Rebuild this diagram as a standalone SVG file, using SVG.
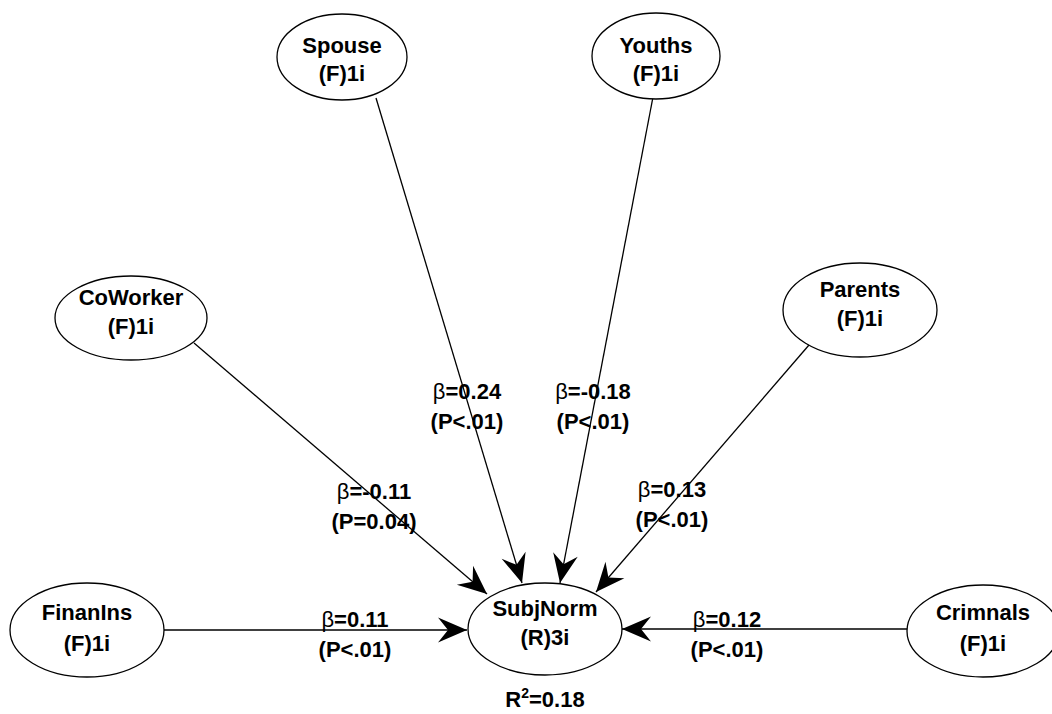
<svg xmlns="http://www.w3.org/2000/svg" width="1052" height="714" viewBox="0 0 1052 714">
  <style>
    .node { fill: #ffffff; stroke: #000000; stroke-width: 1.3; }
    .edge { fill: none; stroke: #000000; stroke-width: 1.3; marker-end: url(#arrow); }
    text { font-family: "Liberation Sans", Arial, sans-serif; font-size: 22px; font-weight: bold; fill: #000000; text-anchor: middle; }
    .beta { font-weight: normal; }
    .sup { font-size: 14px; }
  </style>
  <defs>
    <marker id="arrow" markerUnits="userSpaceOnUse" viewBox="-31 -14 32 28" refX="0" refY="0" markerWidth="32" markerHeight="28" orient="auto">
      <path d="M0,0 L-29,-12.5 L-19,0 L-29,12.5 Z" fill="#000000"/>
    </marker>
  </defs>
  <rect width="1052" height="714" fill="#ffffff"/>

  <!-- connectors: paths into SubjNorm -->
  <g id="connectors">
    <line class="edge" x1="376" y1="98" x2="522" y2="583"/>
    <line class="edge" x1="653" y1="97" x2="560" y2="583"/>
    <line class="edge" x1="194" y1="343" x2="487" y2="594"/>
    <line class="edge" x1="809" y1="345" x2="596" y2="592"/>
    <line class="edge" x1="164" y1="630" x2="467" y2="630"/>
    <line class="edge" x1="907" y1="629" x2="622" y2="629"/>
  </g>

  <!-- path coefficients -->
  <g id="edge-labels">
    <text x="467" y="399"><tspan class="beta">β</tspan>=0.24</text>
    <text x="467" y="429">(P&lt;.01)</text>
    <text x="593" y="399"><tspan class="beta">β</tspan>=-0.18</text>
    <text x="593" y="429">(P&lt;.01)</text>
    <text x="374" y="499"><tspan class="beta">β</tspan>=-0.11</text>
    <text x="374" y="529">(P=0.04)</text>
    <text x="672" y="497"><tspan class="beta">β</tspan>=0.13</text>
    <text x="672" y="527">(P&lt;.01)</text>
    <text x="355" y="627"><tspan class="beta">β</tspan>=0.11</text>
    <text x="355" y="657">(P&lt;.01)</text>
    <text x="727" y="627"><tspan class="beta">β</tspan>=0.12</text>
    <text x="727" y="657">(P&lt;.01)</text>
  </g>

  <g id="spouse">
    <ellipse class="node" cx="342" cy="57" rx="65" ry="43"/>
    <text x="342" y="53">Spouse</text>
    <text x="342" y="81">(F)1i</text>
  </g>
  <g id="youths">
    <ellipse class="node" cx="656" cy="56" rx="64" ry="43"/>
    <text x="656" y="53">Youths</text>
    <text x="656" y="81">(F)1i</text>
  </g>
  <g id="coworker">
    <ellipse class="node" cx="131" cy="318" rx="76" ry="42"/>
    <text x="131" y="305">CoWorker</text>
    <text x="131" y="334">(F)1i</text>
  </g>
  <g id="parents">
    <ellipse class="node" cx="860" cy="310" rx="77" ry="47"/>
    <text x="860" y="297">Parents</text>
    <text x="860" y="326">(F)1i</text>
  </g>
  <g id="finanins">
    <ellipse class="node" cx="87" cy="630" rx="77" ry="47"/>
    <text x="87" y="620">FinanIns</text>
    <text x="87" y="651">(F)1i</text>
  </g>
  <g id="subjnorm">
    <ellipse class="node" cx="545" cy="629" rx="77" ry="46"/>
    <text x="545" y="616">SubjNorm</text>
    <text x="545" y="645">(R)3i</text>
    <text x="545" y="707">R<tspan class="sup" dy="-9">2</tspan><tspan dy="9">=0.18</tspan></text>
  </g>
  <g id="crimnals">
    <ellipse class="node" cx="983" cy="631" rx="76" ry="46"/>
    <text x="983" y="620">Crimnals</text>
    <text x="983" y="651">(F)1i</text>
  </g>
</svg>
